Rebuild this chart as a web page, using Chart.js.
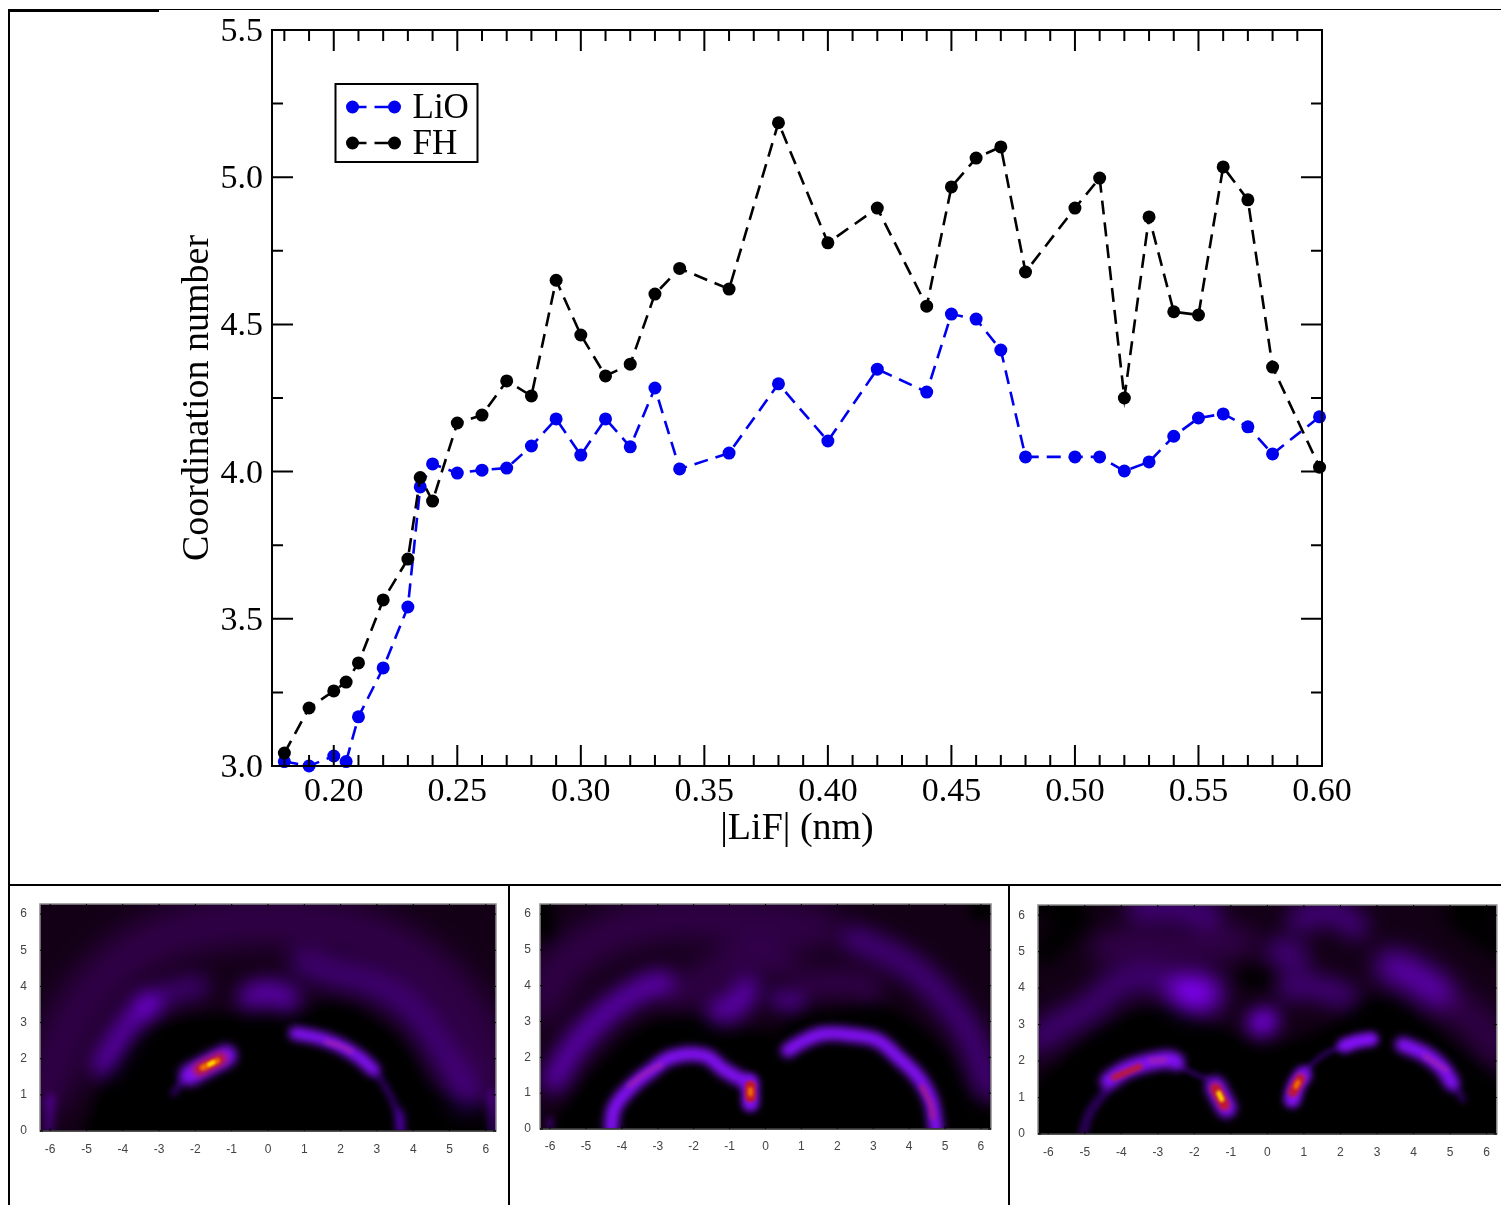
<!DOCTYPE html>
<html><head><meta charset="utf-8">
<script src="https://cdn.jsdelivr.net/npm/chart.js@4"></script>
<style>
html,body{margin:0;padding:0;background:#fff;width:1501px;height:1205px;overflow:hidden}
canvas{position:absolute}
.r{position:absolute;background:#000}
</style></head><body>
<div class="r" style="left:8px;top:9px;width:151px;height:2.5px"></div>
<div class="r" style="left:159px;top:9px;width:1342px;height:1.2px"></div>
<div class="r" style="left:8px;top:9px;width:2px;height:1196px"></div>
<div class="r" style="left:8px;top:884px;width:1493px;height:2px"></div>
<div class="r" style="left:508px;top:885px;width:2px;height:320px"></div>
<div class="r" style="left:1008px;top:885px;width:2px;height:320px"></div>
<canvas id="main" style="left:0;top:0" width="1501" height="884"></canvas>
<canvas id="h1" style="left:11px;top:870px" width="496" height="335"></canvas>
<canvas id="h2" style="left:511px;top:870px" width="496" height="335"></canvas>
<canvas id="h3" style="left:1011px;top:870px" width="490" height="335"></canvas>
<script>
// ---------- main chart data ----------
const lifDistance=[0.18,0.19,0.2,0.205,0.21,0.22,0.23,0.235,0.24,0.25,0.26,0.27,0.28,0.29,0.3,0.31,0.32,0.33,0.34,0.36,0.38,0.4,0.42,0.44,0.45,0.46,0.47,0.48,0.5,0.51,0.52,0.53,0.54,0.55,0.56,0.57,0.58,0.599];
const lioValues=[3.015,3.0,3.034,3.015,3.167,3.333,3.54,3.948,4.026,3.995,4.005,4.012,4.087,4.179,4.056,4.179,4.084,4.284,4.009,4.063,4.298,4.104,4.348,4.27,4.535,4.518,4.413,4.05,4.05,4.05,4.002,4.033,4.12,4.182,4.196,4.152,4.06,4.186];
const fhValues=[3.044,3.197,3.255,3.285,3.35,3.564,3.703,3.98,3.9,4.165,4.192,4.308,4.257,4.65,4.464,4.325,4.365,4.603,4.69,4.62,5.185,4.777,4.895,4.562,4.967,5.065,5.103,4.678,4.895,4.997,4.25,4.865,4.543,4.532,5.035,4.923,4.355,4.015];
const xMajor=[0.2,0.25,0.3,0.35,0.4,0.45,0.5,0.55,0.6];
const xMinor=[0.18,0.19,0.21,0.22,0.23,0.24,0.26,0.27,0.28,0.29,0.31,0.32,0.33,0.34,0.36,0.37,0.38,0.39,0.41,0.42,0.43,0.44,0.46,0.47,0.48,0.49,0.51,0.52,0.53,0.54,0.56,0.57,0.58,0.59];
const yMajor=[3,3.5,4,4.5,5,5.5];
const yMinor=[3.25,3.75,4.25,4.75,5.25];
const seriesNames=['LiO','FH'];
// ---------- heat-map axis ticks ----------
const heatX=[-6,-5,-4,-3,-2,-1,0,1,2,3,4,5,6];
const heatY=[0,1,2,3,4,5,6];
// ---------- panel 1 ridges (x,y) ----------
const p1Void=[[-4.9,0],[-4.5,1],[-3.9,2],[-3,2.75],[-1.5,3.05],[-0.3,3.0],[0.9,3.1],[1.8,3.4],[2.8,3.0],[3.7,2.2],[4.3,1.2],[5.0,0.8],[5.8,0.6],[6.1,0]];
const p1Outer=[[-6.1,1.2],[-5.6,2.6],[-4.8,3.9],[-3.4,5.1],[-1.5,5.7],[0.5,5.8],[2.5,5.5],[4.2,4.6],[5.4,3.3],[6.1,1.6]];
const p1RightBand=[[1.0,4.65],[1.8,4.35],[2.8,4.1],[3.8,3.5],[4.4,2.8],[5.0,1.8],[5.5,0.9]];
const p1LeftBand=[[-4.55,1.8],[-4.2,2.4],[-3.8,3.0],[-3.3,3.5]];
const p1LeftFaint=[[-3.3,3.5],[-2.6,3.85],[-1.9,4.0]];
const p1Centre=[[-0.5,3.72],[0,3.85],[0.55,3.65]];
const p1Right=[[0.75,2.7],[1.3,2.6],[1.9,2.4],[2.5,2.05],[2.9,1.7]];
const p1RightTail=[[2.95,1.65],[3.3,1.1],[3.6,0.4],[3.65,0]];
const p1RightCore=[[1.6,2.47],[2.0,2.35],[2.3,2.2]];
const p1HotOuter=[[-2.15,1.55],[-1.7,1.8],[-1.15,2.08]];
const p1HotTail=[[-2.6,1.05],[-2.3,1.45]];
const p1HotMid=[[-1.9,1.7],[-1.3,2.0]];
const p1HotCore=[[-1.8,1.75],[-1.4,1.94]];
const p1HotPeak=[[-1.62,1.84],[-1.5,1.9]];
const p1Spike1=[[-6.05,0],[-6.0,0.9]];
const p1Spike2=[[6.2,0],[6.2,1.0]];
const p1Spike3=[[3.65,0],[3.65,0.5]];
// ---------- panel 2 ridges ----------
const p2Void=[[-5.8,0],[-5.1,1],[-4.2,2],[-3.2,2.75],[-2,3.0],[-1.2,2.55],[-0.4,2.6],[0.3,2.55],[1,3.0],[2,3.15],[3,3.3],[4,2.85],[5,1.9],[5.6,0.8],[6.28,0.3],[6.28,0]];
const p2CornerA=[[-6.28,6.28],[-6.1,5.5]];
const p2CornerB=[[6.28,6.2],[5.9,6.1]];
const p2Outer=[[-6.2,3.6],[-5.7,4.5],[-4.8,5.2],[-3.6,5.7],[-2,5.9],[0,5.8],[1.5,5.6]];
const p2LeftBand=[[-5.9,1.36],[-5.4,2.2],[-4.6,3.1],[-4.0,3.57],[-3.4,3.94],[-2.9,4.1]];
const p2RightBand=[[2.5,5.3],[3.4,4.9],[4.2,4.4],[5,3.6],[5.7,2.6],[6.2,1.2]];
const p2CentreA=[[-1.3,3.3],[-0.8,3.45],[-0.5,3.9]];
const p2CentreB=[[0.4,3.6],[0.8,3.55]];
const p2CentreC=[[1.2,4.0],[2.2,4.1],[2.9,3.9]];
const p2CentreD=[[-2.4,3.8],[-1.5,4.3],[-0.5,4.8],[0.5,4.6]];
const p2LeftArc=[[-4.3,0],[-4.2,0.6],[-3.74,1.17],[-3.18,1.63],[-2.62,2.0],[-1.7,2.05],[-1.14,1.64],[-0.6,1.35]];
const p2LeftArcCore=[[-3.8,1.2],[-3.4,1.52],[-2.9,1.8]];
const p2RightArc=[[0.62,2.19],[1.09,2.47],[1.64,2.66],[2.48,2.61],[3.13,2.47],[3.69,2.0],[4.25,1.45],[4.61,0.8],[4.75,0]];
const p2RightArcCore=[[4.35,1.2],[4.6,0.7],[4.66,0.3]];
const p2HotOuter=[[-0.42,0.72],[-0.42,1.3]];
const p2HotMid=[[-0.42,0.9],[-0.42,1.2]];
const p2HotCore=[[-0.42,0.98],[-0.42,1.1]];
const p2Spike=[[-6.0,0],[-6.0,0.25]];
// ---------- panel 3 ridges ----------
const p3Void=[[-6.28,1.2],[-5.3,2.1],[-4.5,2.75],[-3,3.3],[-2,3],[-1,2.6],[-0.2,2.2],[1,2.5],[2,2.95],[3.1,3.6],[4.2,3],[5.2,2.2],[6,1.6],[6.28,1.2]];
const p3CornerA=[[-6.28,6.28],[-5.2,6.1],[-6.1,5]];
const p3CornerB=[[6.28,6.28],[5.2,6.1],[6.28,5.2]];
const p3LeftBand=[[-6.28,2.6],[-5.6,3.05],[-4.8,3.5],[-4.2,4.05],[-3.4,4.3],[-2.6,4.1]];
const p3UpperA=[[-4.4,5.1],[-3.5,5.2],[-2.7,5.1],[-1.5,5.2],[-0.8,5.3]];
const p3TopA=[[-3.5,6.2],[-2.5,6.2],[-1.6,6.0]];
const p3TopB=[[0.9,5.9],[1.8,6.1],[2.4,5.7]];
const p3BlobA=[[-2.1,3.88],[-1.75,3.85]];
const p3BlobB=[[-0.2,3.05],[-0.05,3.1]];
const p3BlobC=[[0.6,4.0],[1.2,4.05],[2.1,3.8]];
const p3BlobD=[[0.35,5.0],[0.75,4.85]];
const p3BlobE=[[3.4,4.6],[3.9,4.4],[4.6,3.95]];
const p3RightEdge=[[5,3.6],[5.8,3.0],[6.28,2.3]];
const p3Hole=[[-0.55,4.3],[-0.2,4.25]];
const p3LeftArc=[[-4.35,1.45],[-3.9,1.75],[-3.3,1.95],[-2.7,2.05],[-2.5,1.98]];
const p3LeftCoreA=[[-4.2,1.55],[-3.5,1.85]];
const p3LeftCoreB=[[-3.2,2.0],[-2.8,2.03]];
const p3LeftTail=[[-4.4,1.2],[-4.85,0.6],[-5.05,0]];
const p3Bridge=[[-2.45,1.9],[-2.0,1.65],[-1.6,1.5]];
const p3HotAOuter=[[-1.42,1.3],[-1.3,1.05],[-1.12,0.72]];
const p3HotAMid=[[-1.42,1.25],[-1.18,0.8]];
const p3HotACore=[[-1.33,1.12],[-1.25,0.95]];
const p3HotBOuter=[[0.68,0.95],[0.8,1.35],[0.98,1.62]];
const p3HotBMid=[[0.7,1.15],[0.9,1.52]];
const p3HotBCore=[[0.78,1.3],[0.84,1.42]];
const p3RightArcA=[[2.1,2.42],[2.5,2.55],[2.85,2.6]];
const p3RightArcB=[[3.7,2.45],[4.3,2.2],[4.8,1.8],[5.05,1.4]];
const p3RightArcCore=[[4.3,2.15],[4.9,1.75]];
const p3RightArcTail=[[5.1,1.35],[5.35,0.95]];
const p3BridgeB=[[1.05,1.75],[1.5,2.15],[2.0,2.4]];

// ---------- colours ----------
const HAZE='#1c0030',BAND='#4a0098',BRIGHT='#8410f8',DIM='#2c005c',RED='#c0182c',ORANGE='#f07000',YELLOW='#ffd800',VOID='#000';
const PAPER='#130016';
const L='lighter',S='source-over';
// layer: points, colour, line width, blur, blend, fill
const p1Layers=[[p1Void,VOID,14,6,S,true],[p1Outer,HAZE,50,14,L],[p1RightBand,DIM,28,11,L],[p1LeftFaint,DIM,22,10,L],[p1LeftBand,BAND,22,10,L],[p1Centre,BAND,24,10,L],
[p1Spike1,DIM,9,4,L],[p1Spike2,DIM,9,4,L],[p1Spike3,DIM,9,4,L],[p1RightTail,DIM,7,3,L],[p1Right,BRIGHT,13,4,S],[p1RightCore,'#9c20b0',4,2,S],
[p1HotTail,DIM,7,3,L],[p1HotOuter,BRIGHT,21,5,S],[p1HotMid,RED,12,3,S],[p1HotCore,ORANGE,6,1.5,S],[p1HotPeak,YELLOW,4,1,S]];
const p2Layers=[[p2Void,VOID,14,6,S,true],[p2CornerA,VOID,22,7,S],[p2CornerB,VOID,18,6,S],[p2Outer,HAZE,44,14,L],[p2LeftBand,BAND,24,10,L],[p2RightBand,DIM,28,10,L],[p2CentreD,HAZE,34,12,L],[p2CentreA,BAND,24,10,L],[p2CentreB,DIM,22,8,L],[p2CentreC,HAZE,28,10,L],[p2Spike,DIM,6,3,L],
[p2LeftArc,BRIGHT,14,4,S],[p2RightArc,BRIGHT,14,4,S],[p2LeftArcCore,'#9c20b0',4,2,S],[p2RightArcCore,'#a81c80',4,2,S],
[p2HotOuter,BRIGHT,17,3.5,S],[p2HotMid,RED,11,1.5,S],[p2HotCore,ORANGE,5,1.5,S]];
const p3Layers=[[p3Void,VOID,14,6,S,true],[p3LeftBand,DIM,28,11,L],[p3UpperA,HAZE,34,11,L],[p3TopA,DIM,28,10,L],[p3TopB,DIM,28,10,L],[p3RightEdge,HAZE,34,12,L],
[p3BlobD,DIM,30,10,L],[p3BlobE,BAND,32,12,L],[p3BlobC,DIM,26,10,L],[p3Hole,VOID,18,7,S],[p3CornerA,VOID,26,9,S],[p3CornerB,VOID,26,9,S],[p3BlobA,'#7000e4',36,12,L],[p3BlobB,'#6000c4',26,9,L],
[p3LeftTail,DIM,9,3,L],[p3Bridge,DIM,5,2.5,L],[p3BridgeB,DIM,5,2.5,L],[p3RightArcTail,DIM,7,3,L],
[p3LeftArc,BRIGHT,17,4,S],[p3LeftCoreA,RED,6,2,S],[p3LeftCoreB,'#9c20b0',5,2,S],
[p3RightArcA,BRIGHT,14,3.5,S],[p3RightArcB,BRIGHT,15,4,S],[p3RightArcCore,'#9c20b0',4,2,S],
[p3HotAOuter,BRIGHT,20,4,S],[p3HotAMid,RED,11,2,S],[p3HotACore,YELLOW,5,1.5,S],
[p3HotBOuter,BRIGHT,17,3.5,S],[p3HotBMid,RED,10,2,S],[p3HotBCore,ORANGE,5,1.5,S]];

const serif='"Liberation Serif"';
function tickMarks(ctx,a,xs,ys,len,col,w){
  const {left,right,top,bottom}=a;
  ctx.strokeStyle=col;ctx.lineWidth=w;ctx.beginPath();
  xs.forEach(p=>{ctx.moveTo(p,bottom);ctx.lineTo(p,bottom-len);ctx.moveTo(p,top);ctx.lineTo(p,top+len);});
  ys.forEach(p=>{ctx.moveTo(left,p);ctx.lineTo(left+len,p);ctx.moveTo(right,p);ctx.lineTo(right-len,p);});
  ctx.stroke();
}
const mainFrame={id:'mainFrame',afterDatasetsDraw(c){
  const {ctx,chartArea:a,scales:{x,y}}=c;
  ctx.save();
  ctx.strokeStyle='#000';ctx.lineWidth=2;ctx.strokeRect(a.left,a.top,a.right-a.left,a.bottom-a.top);
  tickMarks(ctx,a,xMajor.map(v=>x.getPixelForValue(v)),yMajor.map(v=>y.getPixelForValue(v)),21,'#000',2);
  tickMarks(ctx,a,xMinor.map(v=>x.getPixelForValue(v)),yMinor.map(v=>y.getPixelForValue(v)),11,'#000',2);
  // legend
  const bx=335.5,by=84,bw=142,bh=78;
  ctx.fillStyle='#fff';ctx.fillRect(bx,by,bw,bh);ctx.lineWidth=2;ctx.strokeStyle='#000';ctx.strokeRect(bx,by,bw,bh);
  seriesNames.forEach((name,i)=>{
    const ds=c.data.datasets.find(d=>d.label===name);
    const ly=by+23+i*36;
    ctx.strokeStyle=ds.borderColor;ctx.lineWidth=ds.borderWidth;ctx.setLineDash(ds.borderDash);
    ctx.beginPath();ctx.moveTo(bx+17,ly);ctx.lineTo(bx+59,ly);ctx.stroke();ctx.setLineDash([]);
    ctx.fillStyle=ds.pointBackgroundColor;
    [bx+17,bx+59].forEach(px=>{ctx.beginPath();ctx.arc(px,ly,ds.pointRadius,0,7);ctx.fill();});
    ctx.fillStyle='#000';ctx.font='35px '+serif;ctx.textBaseline='middle';ctx.textAlign='left';
    ctx.fillText(name,bx+77,ly+2);
  });
  ctx.restore();
}};
const points=(xs,ys)=>xs.map((v,i)=>({x:v,y:ys[i]}));
new Chart(document.getElementById('main'),{
  type:'line',
  data:{datasets:[
    {label:seriesNames[0],data:points(lifDistance,lioValues),borderColor:'#0000f0',pointBackgroundColor:'#0000f0',pointBorderWidth:0,borderWidth:2.6,borderDash:[14,8],pointRadius:6.5,order:2,clip:false,tension:0},
    {label:seriesNames[1],data:points(lifDistance,fhValues),borderColor:'#000',pointBackgroundColor:'#000',pointBorderWidth:0,borderWidth:2.6,borderDash:[14,8],pointRadius:6.5,order:1,clip:false,tension:0}
  ]},
  options:{responsive:false,animation:false,
    layout:{padding:{top:30,right:179,left:0,bottom:0}},
    plugins:{legend:{display:false},tooltip:{enabled:false}},
    scales:{
      x:{type:'linear',min:0.175,max:0.6,grid:{display:false,drawTicks:false},border:{display:false},
        afterBuildTicks(s){s.ticks=xMajor.map(v=>({value:v}));},
        afterFit(s){s.height=118;},
        ticks:{autoSkip:false,maxRotation:0,padding:6,color:'#000',font:{family:serif,size:34},callback:v=>v.toFixed(2)},
        title:{display:true,text:'|LiF| (nm)',color:'#000',font:{family:serif,size:38},padding:{top:0,bottom:32}}},
      y:{type:'linear',min:3,max:5.5,grid:{display:false,drawTicks:false},border:{display:false},
        afterBuildTicks(s){s.ticks=yMajor.map(v=>({value:v}));},
        afterFit(s){s.width=272;},
        ticks:{autoSkip:false,padding:9,labelOffset:2,color:'#000',font:{family:serif,size:34},callback:v=>v.toFixed(1)},
        title:{display:true,text:'Coordination number',color:'#000',font:{family:serif,size:38},padding:{top:175,bottom:0}}}
    }
  },
  plugins:[mainFrame]
});
const heatPlugin={id:'heatPlugin',
  beforeDatasetsDraw(c){const {ctx,chartArea:a}=c;ctx.save();ctx.fillStyle=PAPER;ctx.fillRect(a.left,a.top,a.right-a.left,a.bottom-a.top);ctx.restore();},
  beforeDatasetDraw(c,args){const d=c.data.datasets[args.index],ctx=c.ctx;ctx.save();ctx.filter='blur('+d.blurPx+'px)';ctx.globalCompositeOperation=d.blend;},
  afterDatasetDraw(c){c.ctx.restore();},
  afterDatasetsDraw(c){const {ctx,chartArea:a,scales:{x,y}}=c;ctx.save();
    ctx.strokeStyle='#8a8a8a';ctx.lineWidth=1.5;ctx.strokeRect(a.left,a.top,a.right-a.left,a.bottom-a.top);
    tickMarks(ctx,a,heatX.map(v=>x.getPixelForValue(v)),heatY.map(v=>y.getPixelForValue(v)),3,'#000',1);
    ctx.strokeStyle='#000';ctx.lineWidth=1;ctx.beginPath();ctx.moveTo(a.left,a.bottom);ctx.lineTo(a.right,a.bottom);ctx.stroke();
    ctx.restore();}
};
function heat(id,layers,geo){
  const n=layers.length;
  new Chart(document.getElementById(id),{
    type:'line',
    data:{datasets:layers.map((l,i)=>({label:id+'-'+i,data:l[0].map(p=>({x:p[0],y:p[1]})),borderColor:l[1],borderWidth:l[2],blurPx:l[3],blend:l[4],
      fill:l[5]?'origin':false,backgroundColor:l[1],pointRadius:0,tension:0.4,borderCapStyle:'round',borderJoinStyle:'round',order:n-i}))},
    options:{responsive:false,animation:false,
      layout:{padding:{top:geo.top,right:geo.right,left:0,bottom:0}},
      plugins:{legend:{display:false},tooltip:{enabled:false}},
      scales:{
        x:{type:'linear',min:-6.28,max:6.28,grid:{display:false,drawTicks:false},border:{display:false},
          afterBuildTicks(s){s.ticks=heatX.map(v=>({value:v}));},
          afterFit(s){s.height=geo.bottom;},
          ticks:{autoSkip:false,maxRotation:0,padding:geo.xpad,color:'#444',font:{family:'"Liberation Sans"',size:12}}},
        y:{type:'linear',min:0,max:6.28,grid:{display:false,drawTicks:false},border:{display:false},
          afterBuildTicks(s){s.ticks=heatY.map(v=>({value:v}));},
          afterFit(s){s.width=geo.left;},
          ticks:{autoSkip:false,padding:geo.ypad,color:'#444',font:{family:'"Liberation Sans"',size:12}}}
      }},
    plugins:[heatPlugin]
  });
}
heat('h1',p1Layers,{left:29,top:34,right:11,bottom:74,xpad:11,ypad:13});
heat('h2',p2Layers,{left:29,top:34,right:16,bottom:76,xpad:10,ypad:9});
heat('h3',p3Layers,{left:27,top:35,right:4,bottom:71,xpad:11,ypad:13});
</script>
</body></html>
